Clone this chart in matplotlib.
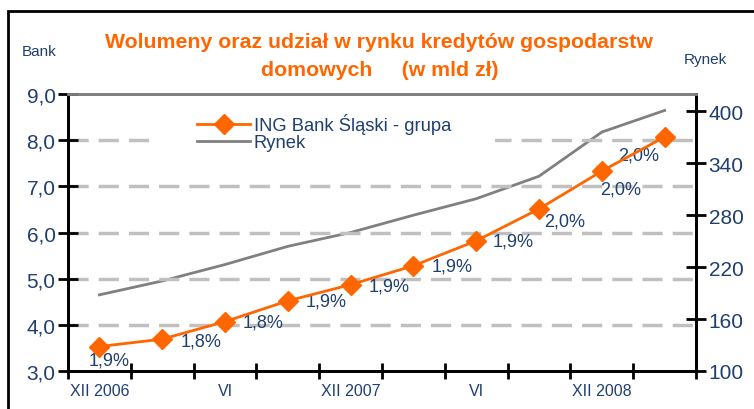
import numpy as np
import matplotlib.pyplot as plt
from matplotlib.patches import Rectangle

# kwartały XII 2006 - III 2009
quarters = ['XII 2006', 'III', 'VI', 'IX', 'XII 2007', 'III', 'VI', 'IX', 'XII 2008', 'III']
tick_labels = ['XII 2006', 'VI', 'XII 2007', 'VI', 'XII 2008']
bank = [3.53, 3.69, 4.07, 4.52, 4.87, 5.28, 5.82, 6.51, 7.33, 8.07]
rynek = [188, 204, 223, 244, 260, 280, 299, 325, 376, 401]
udzial = ['1,9%', '1,8%', '1,8%', '1,9%', '1,9%', '1,9%', '1,9%', '2,0%', '2,0%', '2,0%']

# where each share label sits relative to its marker (points)
lbl_offset = [(7, -10), (13, -1), (13, 0), (13, 0), (13, -1), (13, 0), (12, 0),
              (4, -9), (-1, -13), (-4, -13)]
lbl_ha = ['center'] + ['left'] * 8 + ['right']

ORANGE = '#FF6600'
NAVY = '#1F3F6F'
GRAY = '#808080'

plt.rcParams['font.family'] = ['Liberation Sans', 'DejaVu Sans']

fig = plt.figure(figsize=(7.54, 4.10), dpi=100)
ax = fig.add_axes([68 / 754, 1 - 372 / 410, 628 / 754, 277 / 410])
ax2 = ax.twinx()

x = np.arange(len(quarters))

# gridlines (dashed) on the left scale
for g in [4, 5, 6, 7, 8]:
    ax.axhline(g, color='#C0C0C0', lw=2.5, dashes=(5.8, 2.9), zorder=0)

# white patch behind the legend (covers the grid like in excel)
ax.add_patch(Rectangle(((153 - 68) / 628, (372 - 156) / 277), 342 / 628, 40 / 277,
                       transform=ax.transAxes, facecolor='white', edgecolor='none', zorder=1))

l1, = ax.plot(x, bank, color=ORANGE, lw=2, marker='D', ms=10, zorder=5,
              label='ING Bank Śląski - grupa')
l2, = ax2.plot(x, rynek, color=GRAY, lw=2, label='Rynek')
ax.set_zorder(ax2.get_zorder() + 1)
ax.patch.set_visible(False)

for i, (v, s) in enumerate(zip(bank, udzial)):
    ax.annotate(s, (i, v), xytext=lbl_offset[i], textcoords='offset points',
                ha=lbl_ha[i], va='center', color=NAVY, fontsize=13)

ax.set_xlim(-0.5, 9.5)
ax.set_ylim(3, 9)
ax2.set_ylim(100, 420)

ax.set_yticks(np.arange(3, 9.1, 1))
ax.set_yticklabels([f'{v:.1f}'.replace('.', ',') for v in np.arange(3, 9.1, 1)])
ax2.set_yticks(np.arange(100, 401, 60))

ax.set_xticks(x[::2])
ax.set_xticklabels(tick_labels)
ax.set_xticks(np.arange(-0.5, 10, 1), minor=True)
ax.tick_params(axis='x', which='major', length=0, pad=9, labelsize=11.5, labelcolor=NAVY)
ax.tick_params(axis='x', which='minor', direction='inout', length=12, width=2, color='black')
ax.tick_params(axis='y', direction='inout', length=14, width=2, labelsize=15, labelcolor=NAVY, pad=2)
ax2.tick_params(axis='y', direction='inout', length=14, width=2, labelsize=15, labelcolor=NAVY, pad=2)

for a in (ax, ax2):
    a.spines['left'].set_linewidth(2)
    a.spines['right'].set_linewidth(2)
    a.spines['bottom'].set_linewidth(2)
    a.spines['top'].set_color(GRAY)
    a.spines['top'].set_linewidth(2)

leg = ax.legend([l1, l2], [l1.get_label(), l2.get_label()], loc='upper left',
                bbox_to_anchor=((197 - 68) / 628, (372 - 114) / 277), frameon=False,
                fontsize=13.2, handlelength=2.9, labelspacing=0.0, borderpad=0.0,
                handletextpad=0.2, borderaxespad=0.0)
leg.set_zorder(6)
for t in leg.get_texts():
    t.set_color(NAVY)

fig.text(0.503, 1 - 42 / 410, 'Wolumeny oraz udział w rynku kredytów gospodarstw',
         ha='center', va='center', color=ORANGE, fontsize=15.3, fontweight='bold')
fig.text(0.503, 1 - 70 / 410, 'domowych     (w mld zł)',
         ha='center', va='center', color=ORANGE, fontsize=15.3, fontweight='bold')
fig.text(22 / 754, 1 - 52 / 410, 'Bank', ha='left', va='center', color=NAVY, fontsize=11)
fig.text(684 / 754, 1 - 60 / 410, 'Rynek', ha='left', va='center', color=NAVY, fontsize=11)

fig.patches.append(Rectangle((8 / 754, -0.1), 1.2, 1.1 - 12 / 410, transform=fig.transFigure,
                             fill=False, edgecolor='black', lw=2))

fig.savefig('out.png', dpi=100)
